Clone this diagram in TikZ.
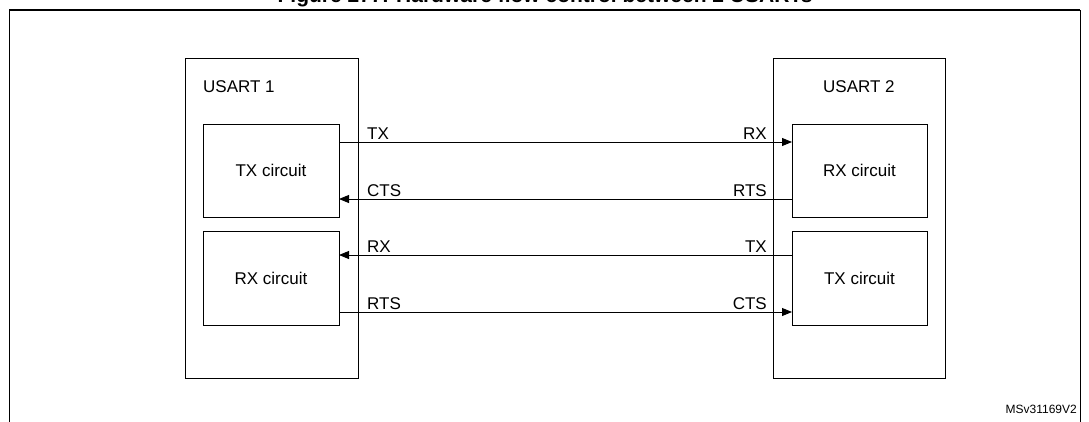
\documentclass[tikz,border=0pt]{standalone}
\usepackage{fontspec}
\setmainfont{Liberation Sans}
\usetikzlibrary{arrows.meta}
\begin{document}
\begin{tikzpicture}[x=1pt,y=-1pt,
  box/.style={draw,line width=0.9pt},
  lab/.style={font=\fontsize{17}{19}\selectfont,inner sep=0pt},
  sig/.style={line width=0.9pt,-{Triangle[length=10pt,width=8pt]}}]
\useasboundingbox (0,0) rectangle (1089,421);
\begin{scope}
\clip (0,0) rectangle (1089,421);
\node[anchor=base,inner sep=0pt,font=\bfseries\fontsize{21}{23}\selectfont] (title) at (545,2) {Figure 277. Hardware flow control between 2 USARTs};
\draw[line width=1.3pt] (9,10) -- (1080,10);
\draw[line width=0.9pt] (9,10) -- (9,430) (1080,10) -- (1080,430);
\end{scope}
\draw[box] (185,58) rectangle (358,378);
\draw[box] (773,58) rectangle (945,378);
\node[box,minimum width=136pt,minimum height=93pt,lab] (tx1) at (271,170.5) {TX circuit};
\node[box,minimum width=136pt,minimum height=94pt,lab] (rx1) at (271,278) {RX circuit};
\node[box,minimum width=135pt,minimum height=93pt,lab] (rx2) at (859.5,170.5) {RX circuit};
\node[box,minimum width=135pt,minimum height=94pt,lab] (tx2) at (859.5,278) {TX circuit};
\node[lab,anchor=west] (u1) at (203,87) {USART 1};
\node[lab,anchor=west] (u2) at (823,87) {USART 2};
\coordinate (a1) at (339,142); \coordinate (a2) at (792,142);
\coordinate (b1) at (339,199); \coordinate (b2) at (792,199);
\coordinate (c1) at (339,255); \coordinate (c2) at (792,255);
\coordinate (d1) at (339,312); \coordinate (d2) at (792,312);
\draw[sig] (a1) -- (a2);
\draw[sig] (b2) -- (b1);
\draw[sig] (c2) -- (c1);
\draw[sig] (d1) -- (d2);
\foreach \n/\l/\r/\y in {t/TX/RX/142,c/CTS/RTS/199,r/RX/TX/255,s/RTS/CTS/312}{
  \node[lab,anchor=south west] (\n l) at (367,\y-2) {\l};
  \node[lab,anchor=south east] (\n r) at (767,\y-2) {\r};
}
\node[anchor=base east,inner sep=0pt,font=\fontsize{12}{14}\selectfont] (id) at (1077,413) {MSv31169V2};
\end{tikzpicture}
\end{document}
